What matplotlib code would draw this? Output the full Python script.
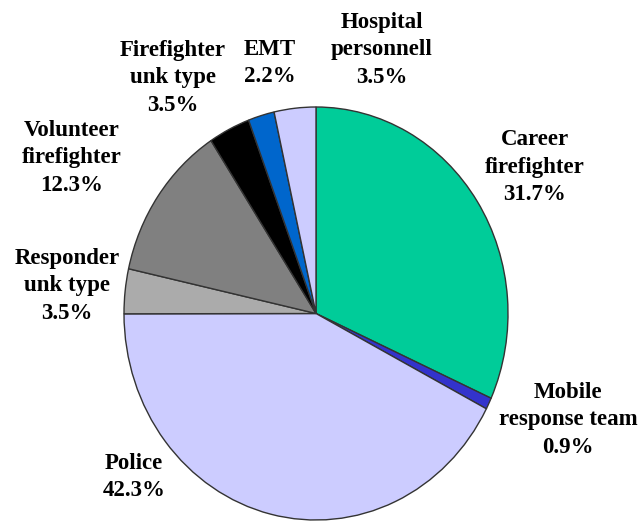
import matplotlib.pyplot as plt

# Dados (fatias no sentido horário a partir do topo)
labels = ['Career\nfirefighter', 'Mobile\nresponse team', 'Police', 'Responder\nunk type',
          'Volunteer\nfirefighter', 'Firefighter\nunk type', 'EMT', 'Hospital\npersonnell']
values = [31.7, 0.9, 42.3, 3.5, 12.3, 3.5, 2.2, 3.5]
colors = ['#00CC99', '#3333CC', '#CCCCFF', '#ABABAB', '#808080', '#000000', '#0066CC', '#CCCCFF']

# posição dos rótulos (pixels da imagem original)
label_pos = [(535, 167), (568, 420), (134, 477), (67, 286),
             (72, 158), (173, 78), (270, 63), (382, 50)]

W, H = 640, 521
fig = plt.figure(figsize=(W / 100, H / 100), dpi=100)
fig.patch.set_facecolor('white')

# pizza levemente elíptica, como no original
ax = fig.add_axes([124 / W, (H - 520) / H, 384 / W, 413 / H])
ax.pie(values, colors=colors, startangle=90, counterclock=False,
       wedgeprops={'edgecolor': '#333333', 'linewidth': 1.0})
ax.set_aspect('auto')
ax.set_xlim(-1, 1)
ax.set_ylim(-1, 1)
ax.axis('off')

for lab, val, (x, y) in zip(labels, values, label_pos):
    fig.text(x / W, 1 - y / H, f'{lab}\n{val:.1f}%', ha='center', va='center',
             fontsize=16.5, fontweight='bold', family='Liberation Serif',
             linespacing=1.4)

plt.savefig('out.png', dpi=100)
plt.close()
